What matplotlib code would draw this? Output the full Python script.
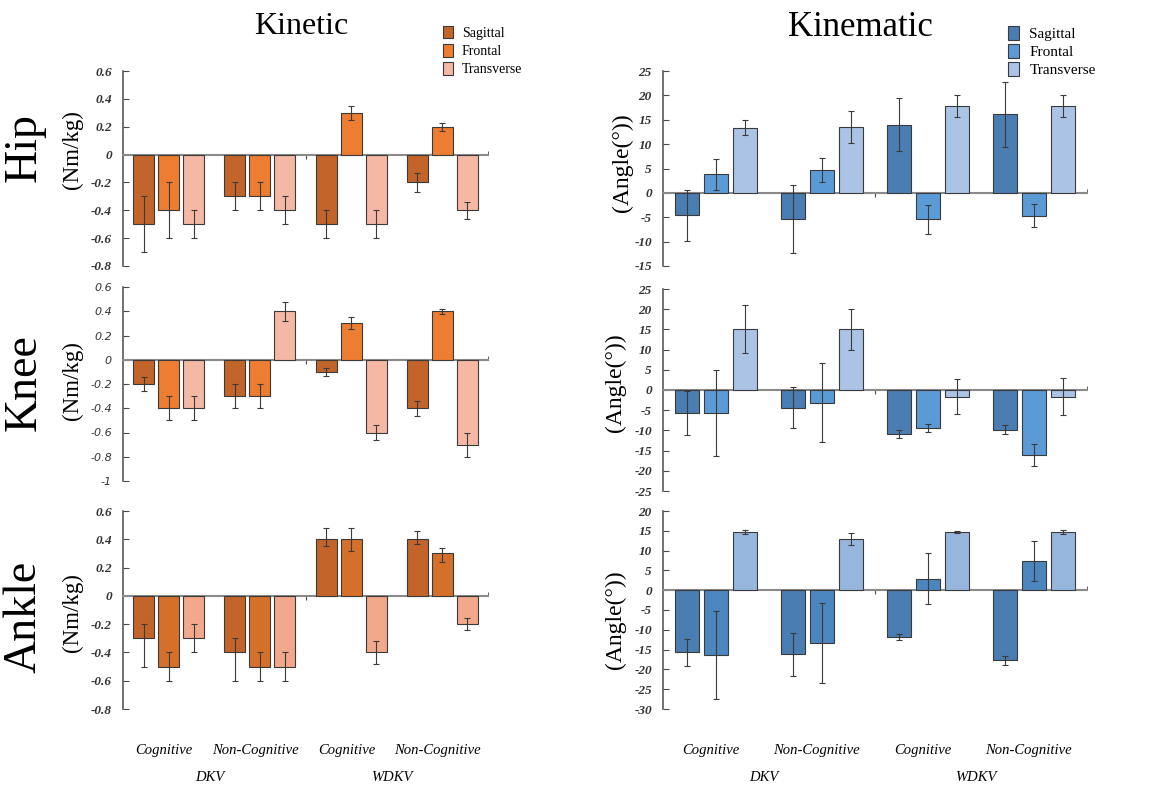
import numpy as np
import matplotlib
matplotlib.use('Agg')
import matplotlib.pyplot as plt

planes = ["Sagittal", "Frontal", "Transverse"]
conditions = ["Cognitive", "Non-Cognitive", "Cognitive", "Non-Cognitive"]
groups = ["DKV", "WDKV"]

# kinetic (Nm/kg), rows = sagittal, frontal, transverse; columns = conditions
hip_kin = [[-0.5, -0.3, -0.5, -0.2],
           [-0.4, -0.3, 0.3, 0.2],
           [-0.5, -0.4, -0.5, -0.4]]
hip_kin_err = [[0.2, 0.1, 0.1, 0.07],
               [0.2, 0.1, 0.05, 0.03],
               [0.1, 0.1, 0.1, 0.06]]
knee_kin = [[-0.2, -0.3, -0.1, -0.4],
            [-0.4, -0.3, 0.3, 0.4],
            [-0.4, 0.4, -0.6, -0.7]]
knee_kin_err = [[0.06, 0.1, 0.03, 0.06],
                [0.1, 0.1, 0.05, 0.02],
                [0.1, 0.08, 0.06, 0.1]]
ankle_kin = [[-0.3, -0.4, 0.4, 0.4],
             [-0.5, -0.5, 0.4, 0.3],
             [-0.3, -0.5, -0.4, -0.2]]
ankle_kin_lo = [[0.2, 0.2, 0.05, 0.03],
                [0.1, 0.1, 0.08, 0.06],
                [0.1, 0.1, 0.08, 0.04]]
ankle_kin_hi = [[0.1, 0.1, 0.08, 0.06],
                [0.1, 0.1, 0.08, 0.04],
                [0.1, 0.1, 0.08, 0.04]]

# kinematic (degrees)
hip_ang = [[-4.6, -5.3, 14.0, 16.1],
           [3.8, 4.7, -5.4, -4.7],
           [13.4, 13.5, 17.8, 17.8]]
hip_ang_err = [[5.2, 7.0, 5.5, 6.7],
               [3.2, 2.5, 3.0, 2.4],
               [1.6, 3.2, 2.2, 2.3]]
knee_ang = [[-5.7, -4.4, -10.8, -9.8],
            [-5.7, -3.1, -9.4, -16.1],
            [15.1, 15.0, -1.7, -1.7]]
knee_ang_err = [[5.5, 5.1, 1.0, 1.2],
                [10.7, 9.7, 1.0, 2.8],
                [6.0, 5.1, 4.3, 4.6]]
ankle_ang = [[-15.7, -16.2, -11.8, -17.7],
             [-16.3, -13.4, 2.9, 7.4],
             [14.7, 12.9, 14.7, 14.7]]
ankle_ang_err = [[3.4, 5.4, 0.8, 1.1],
                 [11.1, 10.1, 6.5, 5.0],
                 [0.6, 1.6, 0.3, 0.5]]

orange = ["#C3652A", "#ED7D31", "#F4B8A4"]
orange_ankle = ["#C3652A", "#D4702A", "#F2A88A"]
blue = ["#4A7DB1", "#5B9BD5", "#ABC4E6"]
blue_ankle = ["#4A7DB1", "#4C86BF", "#97B6DE"]

serif = "Liberation Serif"
W, H = 1157, 787
fig = plt.figure(figsize=(W / 100, H / 100), dpi=100)


def add_ax(left, top, right, bottom):
    return fig.add_axes([left / W, 1 - bottom / H, (right - left) / W, (bottom - top) / H])


def panel(ax, means, lo, hi, colors, yticks, offset, width, sans=False):
    x = np.arange(len(conditions)) + 0.5
    bars = []
    for j in range(3):
        xs = x + (j - 1) * offset
        b = ax.bar(xs, means[j], width, color=colors[j], edgecolor="#3a3a3a",
                   linewidth=0.8, zorder=3, label=planes[j])
        ax.errorbar(xs, means[j], yerr=[lo[j], hi[j]], fmt="none", ecolor="#3a3a3a",
                    elinewidth=0.8, capsize=2.5, capthick=0.8, zorder=4)
        bars.append(b)
    ax.set_xlim(0, 4)
    ax.set_ylim(yticks[0], yticks[-1])
    ax.set_yticks(yticks)
    ax.set_yticklabels(["%g" % t for t in yticks])
    for s in ["top", "right"]:
        ax.spines[s].set_visible(False)
    ax.spines["bottom"].set_position(("data", 0))
    ax.spines["bottom"].set_color("#8a8a8a")
    ax.spines["bottom"].set_linewidth(1.5)
    ax.spines["left"].set_color("#4a4a4a")
    ax.spines["left"].set_linewidth(1.1)
    ax.set_xticks([2])
    ax.set_xticklabels([])
    ax.set_xticks([4], minor=True)
    ax.tick_params(axis="x", which="major", direction="out", length=3, color="#4a4a4a")
    ax.tick_params(axis="x", which="minor", direction="in", length=3, color="#4a4a4a")
    ax.tick_params(axis="y", direction="in", length=4, color="#4a4a4a", pad=8)
    for t in ax.get_yticklabels():
        t.set_fontstyle("italic")
        t.set_color("#333333")
        if sans:
            t.set_fontfamily("DejaVu Sans")
            t.set_fontsize(8)
        else:
            t.set_fontfamily(serif)
            t.set_fontweight("bold")
            t.set_fontsize(9.5)
    return bars


kin_ticks_a = [-0.8, -0.6, -0.4, -0.2, 0, 0.2, 0.4, 0.6]
kin_ticks_b = [-1, -0.8, -0.6, -0.4, -0.2, 0, 0.2, 0.4, 0.6]

ax1 = add_ax(123, 71, 488, 266)
kin_bars = panel(ax1, hip_kin, hip_kin_err, hip_kin_err, orange, kin_ticks_a, 0.275, 0.23)
ax2 = add_ax(123, 287, 488, 481)
panel(ax2, knee_kin, knee_kin_err, knee_kin_err, orange, kin_ticks_b, 0.275, 0.23, sans=True)
ax3 = add_ax(123, 511, 488, 709)
panel(ax3, ankle_kin, ankle_kin_lo, ankle_kin_hi, orange_ankle, kin_ticks_a, 0.275, 0.23)

ax4 = add_ax(663, 71, 1087, 266)
ang_bars = panel(ax4, hip_ang, hip_ang_err, hip_ang_err, blue, list(range(-15, 26, 5)), 0.27, 0.226)
ax5 = add_ax(663, 289, 1087, 491)
panel(ax5, knee_ang, knee_ang_err, knee_ang_err, blue, list(range(-25, 26, 5)), 0.27, 0.226)
ax6 = add_ax(663, 511, 1087, 709)
panel(ax6, ankle_ang, ankle_ang_err, ankle_ang_err, blue_ankle, list(range(-30, 21, 5)), 0.27, 0.226)

# category labels under the bottom panels
for ax in [ax3, ax6]:
    tr = ax.get_xaxis_transform()
    for i, c in enumerate(conditions):
        ax.text(i + 0.45, -0.21, c, transform=tr, ha="center", va="center",
                fontfamily=serif, fontstyle="italic", fontsize=10.5)
    for k, g in enumerate(groups):
        ax.text(2 * k + 0.95, -0.345, g, transform=tr, ha="center", va="center",
                fontfamily=serif, fontstyle="italic", fontsize=10.5)

# titles
fig.text(301 / W, 1 - 27 / H, "Kinetic", ha="center", va="center", fontfamily=serif, fontsize=23)
fig.text(860 / W, 1 - 27 / H, "Kinematic", ha="center", va="center", fontfamily=serif, fontsize=25)

# row labels and units
rows = ["Hip", "Knee", "Ankle"]
row_y = [148, 383, 617]
unit_y_kin = [150, 381, 613]
unit_y_ang = [163, 383, 620]
unit_x_ang = [622, 615, 615]
for r, y, yk, ya, xa in zip(rows, row_y, unit_y_kin, unit_y_ang, unit_x_ang):
    fig.text(24 / W, 1 - y / H, r, rotation=90, ha="center", va="center",
             fontfamily=serif, fontsize=33)
    fig.text(72 / W, 1 - yk / H, "(Nm/kg)", rotation=90, ha="center", va="center",
             fontfamily=serif, fontsize=16.5)
    fig.text(xa / W, 1 - ya / H, "(Angle(°))", rotation=90, ha="center", va="center",
             fontfamily=serif, fontsize=17)

# legends
fig.legend(handles=kin_bars, labels=planes, loc="upper left",
           bbox_to_anchor=(443 / W, 1 - 26 / H), frameon=False,
           prop={"family": serif, "size": 10}, handlelength=0.75, handleheight=1.0,
           labelspacing=0.3, handletextpad=0.6, borderpad=0, borderaxespad=0)
fig.legend(handles=ang_bars, labels=planes, loc="upper left",
           bbox_to_anchor=(1008 / W, 1 - 26 / H), frameon=False,
           prop={"family": serif, "size": 11}, handlelength=0.7, handleheight=1.0,
           labelspacing=0.2, handletextpad=0.7, borderpad=0, borderaxespad=0)

fig.savefig("out.png", dpi=100)
